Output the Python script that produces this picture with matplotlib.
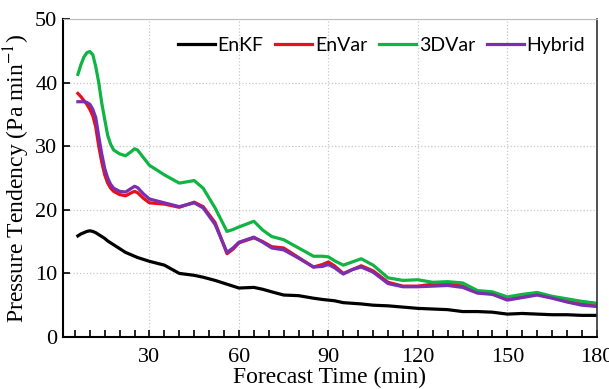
import matplotlib
matplotlib.use('Agg')
import matplotlib.pyplot as plt
from matplotlib.ticker import MultipleLocator

# data
minutes = [6, 7, 8, 9, 10, 11, 12, 13, 14, 15, 16, 17, 18, 20, 22, 24, 25, 26, 28, 30,
           35, 40, 45, 48, 52, 56, 58, 60, 65, 68, 71, 75, 80, 85, 88, 90, 92, 95, 98,
           101, 105, 110, 115, 120, 125, 130, 135, 140, 145, 150, 155, 160, 165, 170,
           175, 180]

enkf = [15.9, 16.2, 16.4, 16.6, 16.7, 16.6, 16.4, 16.1, 15.8, 15.5, 15.1, 14.8, 14.5,
        13.9, 13.3, 12.9, 12.7, 12.5, 12.2, 11.9,
        11.3, 10.0, 9.7, 9.4, 8.9, 8.3, 8.0, 7.7, 7.8, 7.5, 7.1, 6.6, 6.5, 6.1, 5.9, 5.8,
        5.7, 5.4, 5.3, 5.2, 5.0, 4.9, 4.7, 4.5, 4.4, 4.3, 4.0, 4.0, 3.9, 3.6, 3.7, 3.6,
        3.5, 3.5, 3.4, 3.4]

envar = [38.3, 37.8, 37.2, 36.6, 35.8, 34.8, 33.0, 30.0, 27.5, 25.5, 24.2, 23.4, 22.9,
         22.4, 22.2, 22.7, 22.9, 22.7, 21.8, 21.1,
         20.9, 20.4, 21.2, 20.5, 18.0, 13.1, 13.8, 14.8, 15.6, 15.0, 14.2, 14.0, 12.5,
         11.0, 11.4, 11.8, 11.2, 10.0, 10.6, 11.2, 10.4, 8.6, 8.0, 8.0, 8.3, 8.4, 8.0,
         7.0, 6.8, 6.0, 6.3, 6.7, 6.2, 5.6, 5.2, 5.0]

var3d = [41.3, 42.8, 44.0, 44.7, 44.9, 44.4, 42.5, 40.0, 36.8, 34.2, 31.7, 30.3, 29.4,
         28.8, 28.5, 29.2, 29.6, 29.4, 28.2, 27.0,
         25.5, 24.2, 24.6, 23.4, 20.3, 16.6, 16.9, 17.3, 18.2, 16.8, 15.8, 15.3, 14.0,
         12.7, 12.7, 12.6, 12.0, 11.3, 11.8, 12.3, 11.3, 9.3, 8.9, 9.0, 8.6, 8.7, 8.5,
         7.3, 7.1, 6.3, 6.7, 7.0, 6.4, 6.0, 5.6, 5.3]

hybrid = [37.0, 37.0, 37.0, 36.9, 36.6, 35.8, 34.5, 31.5, 28.8, 26.5, 25.0, 24.0, 23.4,
          22.9, 22.8, 23.4, 23.7, 23.5, 22.5, 21.7,
          21.1, 20.5, 21.1, 20.3, 17.7, 13.3, 14.0, 14.9, 15.7, 14.9, 14.0, 13.7, 12.4,
          11.0, 11.1, 11.4, 10.9, 9.9, 10.6, 11.0, 10.2, 8.4, 7.9, 7.9, 8.0, 8.1, 7.8,
          6.9, 6.7, 5.8, 6.2, 6.6, 6.1, 5.5, 5.0, 4.8]

plt.rcParams['mathtext.fontset'] = 'stix'

fig = plt.figure(figsize=(6.09, 3.89), dpi=100)
ax = fig.add_axes([0.1034, 0.1337, 0.8766, 0.8173])

lw = 2.3
ax.plot(minutes, enkf, color='black', lw=lw, label='EnKF')
ax.plot(minutes, envar, color='#e8101a', lw=lw, label='EnVar')
ax.plot(minutes, var3d, color='#0fb443', lw=lw, label='3DVar')
ax.plot(minutes, hybrid, color='#7b2fb0', lw=lw, label='Hybrid')

ax.set_xlim(1, 180)
ax.set_ylim(0, 50)
ax.xaxis.set_major_locator(MultipleLocator(30))
ax.xaxis.set_minor_locator(MultipleLocator(5))
ax.yaxis.set_major_locator(MultipleLocator(10))
ax.grid(True, which='major', color='#c8c8c8', linestyle=':', linewidth=0.9)

serif = 'Liberation Serif'
ax.tick_params(axis='x', which='both', direction='in', length=5, width=1.2,
               top=False, pad=8)
ax.tick_params(axis='y', which='both', direction='in', length=5, width=1.2,
               right=False, pad=4)
for lab in ax.get_xticklabels() + ax.get_yticklabels():
    lab.set_fontfamily(serif)
    lab.set_fontsize(16)

ax.set_xlabel('Forecast Time (min)', fontfamily=serif, fontsize=17, labelpad=0)
ax.set_ylabel('Pressure Tendency (Pa min$^{-1}$)', fontfamily=serif, fontsize=17,
              labelpad=2)

for side in ['left', 'bottom']:
    ax.spines[side].set_linewidth(1.5)
ax.spines['right'].set_linewidth(1.2)
ax.spines['right'].set_color('#333333')
ax.spines['top'].set_linewidth(0.8)
ax.spines['top'].set_color('#bbbbbb')

ax.legend(loc='upper right', ncol=4, frameon=False, bbox_to_anchor=(1.0, 0.98),
          prop={'family': 'Lato', 'size': 14}, handlelength=1.9,
          handletextpad=0.15, columnspacing=0.6, borderaxespad=0.2)

fig.savefig('out.png', dpi=100)
